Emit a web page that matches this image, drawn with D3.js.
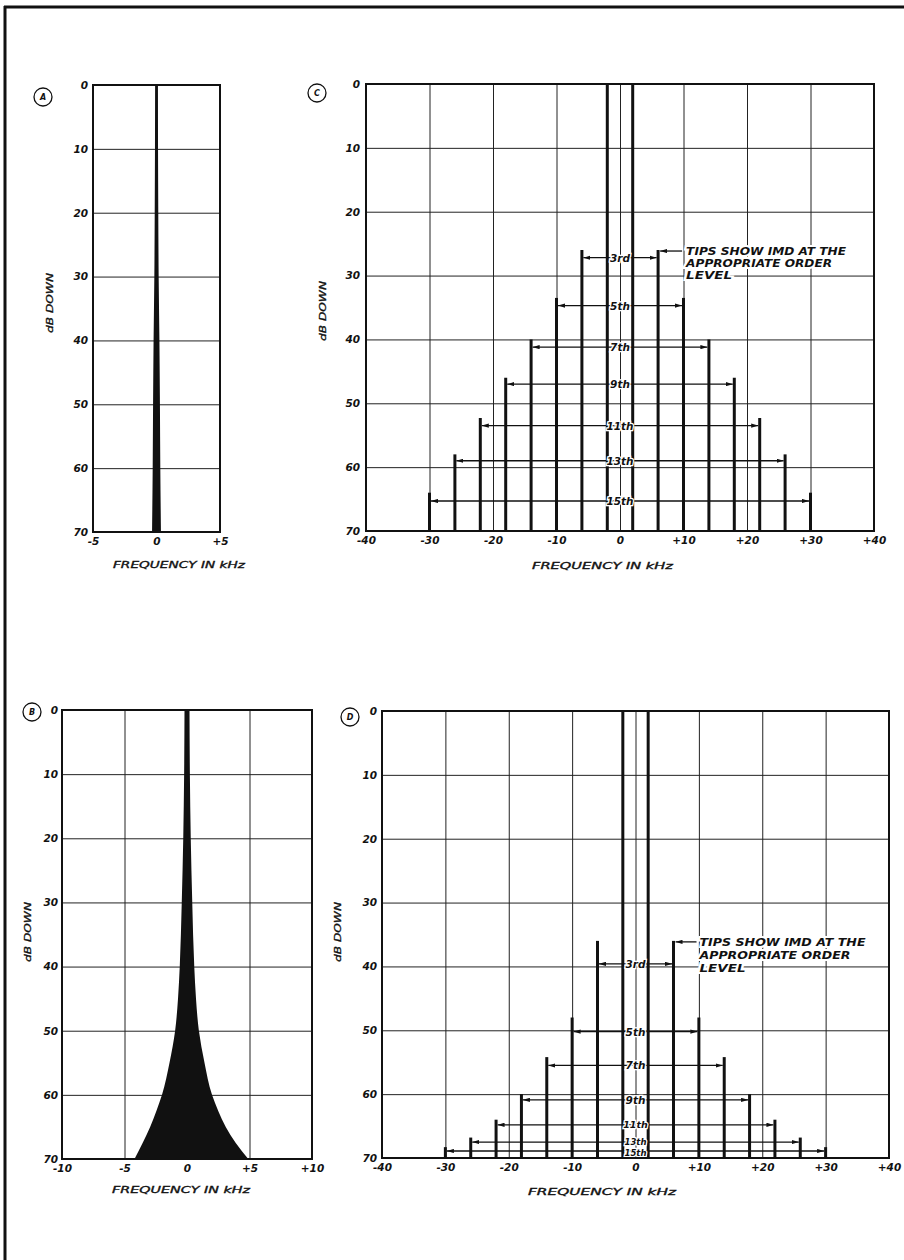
<!DOCTYPE html>
<html><head><meta charset="utf-8">
<script src="https://cdn.jsdelivr.net/npm/d3@7"></script>
<style>
body{margin:0;background:#fff;}
svg{display:block;}
</style></head><body>
<svg id="c" width="904" height="1260"></svg>
<script>
// ---------- data ----------
const dbTicks = [0,10,20,30,40,50,60,70];
const dbGrid = [10,20,30,40,50,60];
const freqTicksA = [-5,0,5];
const freqGridA = [0];
const freqTicksB = [-10,-5,0,5,10];
const freqGridB = [-5,0,5];
const freqTicksCD = [-40,-30,-20,-10,0,10,20,30,40];
const freqGridCD = [-30,-20,-10,0,10,20,30];

// Panel A: single clean carrier, half-width (kHz) vs dB down
const levelsA = [0,10,20,30,40,50,60,70];
const halfWidthA = [0.11,0.12,0.14,0.17,0.23,0.27,0.3,0.35];

// Panel B: carrier with skirts
const levelsB = [0,10,20,30,40,45,50,55,60,62.5,65,67.5,70];
const leftWidthB = [0.2,0.23,0.3,0.42,0.58,0.72,0.95,1.4,2.0,2.45,2.95,3.55,4.2];
const rightWidthB = [0.2,0.23,0.3,0.42,0.58,0.72,0.95,1.4,2.0,2.5,3.1,3.9,4.9];

// Panels C, D: two-tone test with IMD products
const toneFreqs = [-2,2];
const imdOrders = ["3rd","5th","7th","9th","11th","13th","15th"];
const imdOffsets = [6,10,14,18,22,26,30];
const imdTipsC = [26,33.5,40,46,52.3,58,64];
const arrowLevelsC = [27.2,34.7,41.2,47,53.5,59,65.3];
const imdTipsD = [36,48,54.2,60,64,66.8,68.3];
const arrowLevelsD = [39.6,50.2,55.5,60.9,64.8,67.5,68.9];
const noteLines = ["TIPS SHOW IMD AT THE","APPROPRIATE ORDER","LEVEL"];

// ---------- drawing ----------
const svg = d3.select("#c");
const FONT = "'DejaVu Sans', sans-serif";
const INK = "#111";

const defs = svg.append("defs");
defs.append("marker").attr("id","ah").attr("viewBox","0 0 10 6")
  .attr("refX",10).attr("refY",3).attr("markerWidth",7).attr("markerHeight",4.5)
  .attr("markerUnits","userSpaceOnUse").attr("orient","auto-start-reverse")
  .append("path").attr("d","M0,0L10,3L0,6Z").attr("fill",INK);

// outer frame
svg.append("line").attr("x1",5).attr("y1",6).attr("x2",5).attr("y2",1260).attr("stroke",INK).attr("stroke-width",3);
svg.append("line").attr("x1",4).attr("y1",7).attr("x2",904).attr("y2",7).attr("stroke",INK).attr("stroke-width",3);

const fmt = d => d > 0 ? "+" + d : (d < 0 ? "-" + Math.abs(d) : "0");

function italic(sel, size){
  sel.attr("font-family",FONT).attr("font-style","italic").attr("font-weight","bold")
     .attr("font-size",size).attr("fill",INK);
}

function panel(cfg){
  const g = svg.append("g");
  const x = d3.scaleLinear().domain(cfg.xd).range([cfg.x0,cfg.x1]);
  const y = d3.scaleLinear().domain([0,70]).range([cfg.y0,cfg.y1]);
  const w = cfg.x1-cfg.x0, h = cfg.y1-cfg.y0;

  // grid
  const gx = g.append("g").attr("transform",`translate(0,${cfg.y1})`)
    .call(d3.axisBottom(x).tickValues(cfg.grid).tickSize(-h).tickFormat(""));
  gx.select(".domain").remove();
  gx.selectAll("line").attr("stroke","#222").attr("stroke-width",1);
  const gy = g.append("g").attr("transform",`translate(${cfg.x0},0)`)
    .call(d3.axisLeft(y).tickValues(dbGrid).tickSize(-w).tickFormat(""));
  gy.select(".domain").remove();
  gy.selectAll("line").attr("stroke","#222").attr("stroke-width",1);

  // tick labels
  const ly = g.append("g").attr("transform",`translate(${cfg.x0},0)`)
    .call(d3.axisLeft(y).tickValues(dbTicks).tickSize(0).tickPadding(cfg.ypad));
  ly.select(".domain").remove();
  italic(ly.selectAll("text"),10.5);
  ly.attr("font-family",null).attr("font-size",null);
  const lx = g.append("g").attr("transform",`translate(0,${cfg.y1})`)
    .call(d3.axisBottom(x).tickValues(cfg.ticks).tickSize(0).tickPadding(6).tickFormat(fmt));
  lx.select(".domain").remove();
  italic(lx.selectAll("text"),10.5);
  lx.attr("font-family",null).attr("font-size",null);

  // titles
  const tx = g.append("text").attr("x",cfg.xt[0]).attr("y",cfg.xt[1])
    .attr("textLength",cfg.xt[2]).attr("lengthAdjust","spacingAndGlyphs")
    .text("FREQUENCY IN kHz");
  italic(tx,9.5);
  tx.attr("font-weight","normal").attr("stroke",INK).attr("stroke-width",0.35);
  const ty = g.append("text")
    .attr("transform",`translate(${cfg.yt[0]},${cfg.yt[1]}) rotate(-90)`)
    .attr("text-anchor","middle").attr("textLength",cfg.yt[2]).attr("lengthAdjust","spacingAndGlyphs")
    .text("dB DOWN");
  italic(ty,9.5);
  ty.attr("font-weight","normal").attr("stroke",INK).attr("stroke-width",0.35);

  // circle tag
  g.append("circle").attr("cx",cfg.tag[0]).attr("cy",cfg.tag[1]).attr("r",9)
    .attr("fill","#fff").attr("stroke",INK).attr("stroke-width",1.3);
  const tt = g.append("text").attr("x",cfg.tag[0]).attr("y",cfg.tag[1]+3)
    .attr("text-anchor","middle").text(cfg.name);
  italic(tt,8);

  return {g,x,y};
}

function frame(p, cfg){
  p.g.append("rect").attr("x",cfg.x0).attr("y",cfg.y0)
    .attr("width",cfg.x1-cfg.x0).attr("height",cfg.y1-cfg.y0)
    .attr("fill","none").attr("stroke",INK).attr("stroke-width",2);
}

// ----- Panel A -----
const cfgA = {name:"A", xd:[-5,5], x0:93, x1:220, y0:85, y1:532, ticks:freqTicksA, grid:freqGridA,
  ypad:5, xt:[113,568,132], yt:[53,303,60], tag:[43,97]};
const pA = panel(cfgA);
const dataA = levelsA.map((d,i)=>({db:d, l:-halfWidthA[i], r:halfWidthA[i]}));
pA.g.append("path").datum(dataA)
  .attr("d", d3.area().curve(d3.curveMonotoneY).y(d=>pA.y(d.db)).x0(d=>pA.x(d.l)).x1(d=>pA.x(d.r)))
  .attr("fill",INK);
frame(pA,cfgA);

// ----- Panel B -----
const cfgB = {name:"B", xd:[-10,10], x0:62, x1:312, y0:710, y1:1159, ticks:freqTicksB, grid:freqGridB,
  ypad:4, xt:[112,1193,138], yt:[31,932,60], tag:[32,712]};
const pB = panel(cfgB);
const dataB = levelsB.map((d,i)=>({db:d, l:-leftWidthB[i], r:rightWidthB[i]}));
pB.g.append("path").datum(dataB)
  .attr("d", d3.area().curve(d3.curveMonotoneY).y(d=>pB.y(d.db)).x0(d=>pB.x(d.l)).x1(d=>pB.x(d.r)))
  .attr("fill",INK);
frame(pB,cfgB);

// ----- Panels C, D -----
function twoTone(cfg, tips, arrows, noteDx, noteLine){
  const p = panel(cfg);
  const {g,x,y} = p;
  // tones
  g.selectAll(".tone").data(toneFreqs).join("line")
    .attr("x1",d=>x(d)).attr("x2",d=>x(d)).attr("y1",y(0)).attr("y2",y(70))
    .attr("stroke",INK).attr("stroke-width",3);
  // IMD products
  const prods = [];
  imdOffsets.forEach((o,i)=>{ prods.push({f:-o,tip:tips[i]}); prods.push({f:o,tip:tips[i]}); });
  g.selectAll(".imd").data(prods).join("line")
    .attr("x1",d=>x(d.f)).attr("x2",d=>x(d.f)).attr("y1",d=>y(d.tip)).attr("y2",y(70))
    .attr("stroke",INK).attr("stroke-width",3);
  // order arrows
  const ords = imdOrders.map((o,i)=>({o, off:imdOffsets[i], lv:arrows[i], i}));
  g.selectAll(".arr").data(ords).join("line")
    .attr("x1",d=>x(-d.off)+1.5).attr("x2",d=>x(d.off)-1.5)
    .attr("y1",d=>y(d.lv)).attr("y2",d=>y(d.lv))
    .attr("stroke",INK).attr("stroke-width",1.3)
    .attr("marker-start","url(#ah)").attr("marker-end","url(#ah)");
  const lab = g.selectAll(".lab").data(ords).join("text")
    .attr("x",x(0)).attr("y",d=>y(d.lv)+cfg.labDy[d.i]).attr("text-anchor","middle")
    .attr("stroke","#fff").attr("stroke-width",2.5).attr("paint-order","stroke")
    .text(d=>d.o);
  italic(lab,10.5);
  lab.attr("font-size",d=>cfg.labSize[d.i]);
  // note
  const ty0 = y(tips[0]);
  g.append("line").attr("x1",x(imdOffsets[0])+noteLine).attr("x2",x(imdOffsets[0])+2)
    .attr("y1",ty0+1).attr("y2",ty0+1).attr("stroke",INK).attr("stroke-width",1.3)
    .attr("marker-end","url(#ah)");
  const lens = cfg.noteLens;
  noteLines.forEach((t,i)=>{
    const n = g.append("text").attr("x",x(imdOffsets[0])+noteDx).attr("y",ty0+5+i*cfg.noteGap)
      .attr("textLength",lens[i]).attr("lengthAdjust","spacingAndGlyphs")
      .attr("stroke","#fff").attr("stroke-width",4).attr("paint-order","stroke")
      .text(t);
    italic(n,10.5);
  });
  frame(p,cfg);
}

const cfgC = {name:"C", xd:[-40,40], x0:366, x1:874, y0:84, y1:531, ticks:freqTicksCD, grid:freqGridCD,
  ypad:6, xt:[532,569,141], yt:[326,311,60], tag:[317,93], noteLens:[160,146,46], noteGap:12,
  labDy:[4,4,4,4,4,4,4], labSize:[10.5,10.5,10.5,10.5,10.5,10.5,10.5]};
twoTone(cfgC, imdTipsC, arrowLevelsC, 28, 24);

const cfgD = {name:"D", xd:[-40,40], x0:382, x1:889, y0:711, y1:1158, ticks:freqTicksCD, grid:freqGridCD,
  ypad:5, xt:[528,1195,148], yt:[341,932,60], tag:[350,717], noteLens:[166,151,46], noteGap:13,
  labDy:[4,4,4,4,3.5,2.8,5], labSize:[10.5,10.5,10.5,10.5,9.5,8.5,8.5]};
twoTone(cfgD, imdTipsD, arrowLevelsD, 26, 23);
</script>
</body></html>
